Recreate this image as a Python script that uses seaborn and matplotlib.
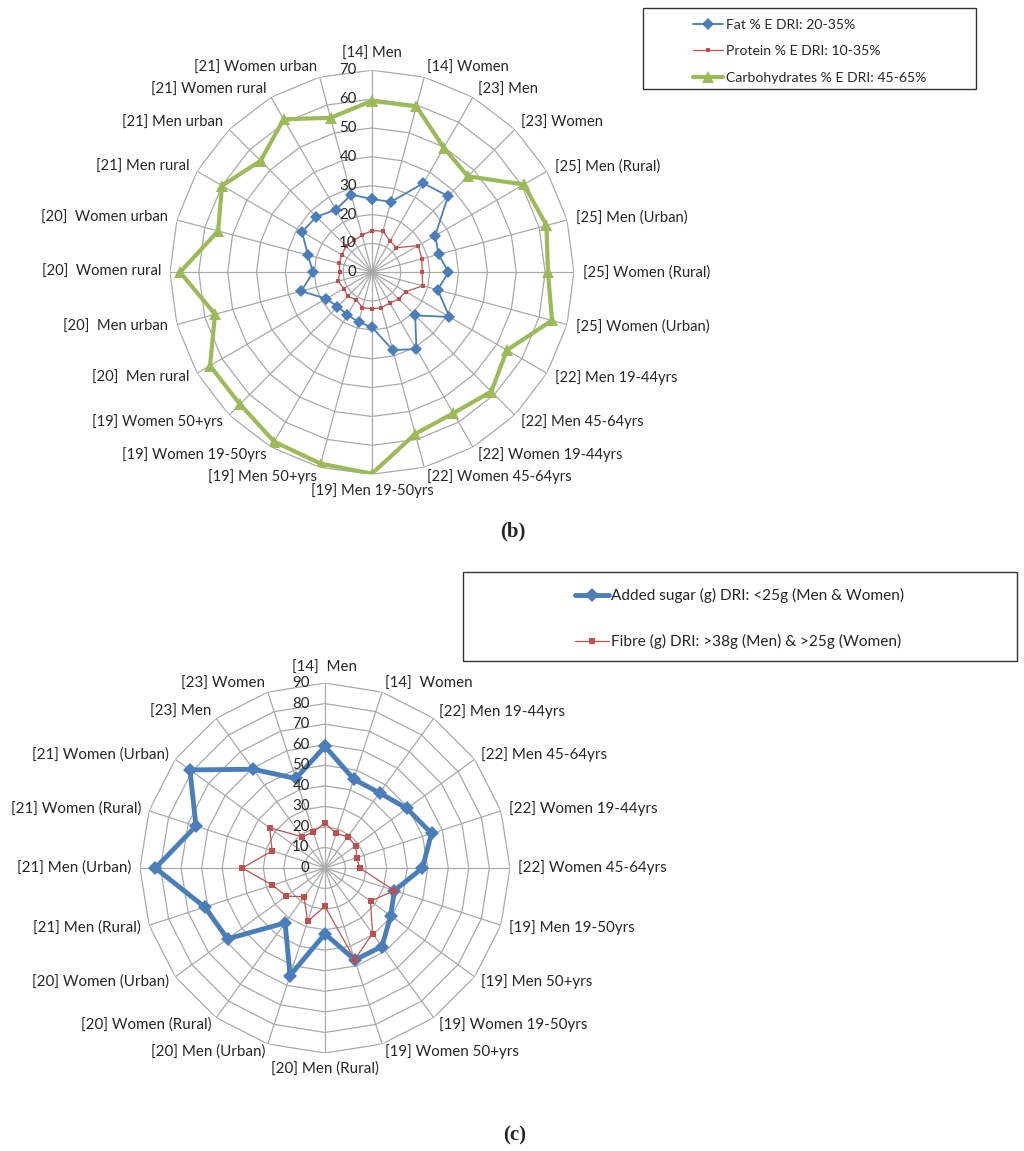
import numpy as np
import pandas as pd
import matplotlib.pyplot as plt
import seaborn as sns
from matplotlib.patches import Rectangle

sns.set_style('white')
plt.rcParams['font.family'] = ['Lato', 'DejaVu Sans']

# chart (b): energy share of macronutrients
cats_b = ['[14] Men', '[14] Women', '[23] Men', '[23] Women', '[25] Men (Rural)',
          '[25] Men (Urban)', '[25] Women (Rural)', '[25] Women (Urban)',
          '[22] Men 19-44yrs', '[22] Men 45-64yrs', '[22] Women 19-44yrs',
          '[22] Women 45-64yrs', '[19] Men 19-50yrs', '[19] Men 50+yrs',
          '[19] Women 19-50yrs', '[19] Women 50+yrs', '[20]  Men rural',
          '[20]  Men urban', '[20]  Women rural', '[20]  Women urban',
          '[21] Men rural', '[21] Men urban', '[21] Women rural', '[21] Women urban']
fat = [25.4, 25.2, 35.6, 37.3, 25.3, 23.9, 26.5, 23.6, 31.0, 21.2, 30.8, 27.9,
       19.1, 17.9, 17.0, 16.9, 18.3, 25.4, 20.4, 23.0, 28.0, 27.2, 25.0, 27.8]
protein = [14.4, 14.7, 12.5, 12.0, 18.5, 17.9, 17.4, 18.2, 13.5, 13.1, 12.4, 12.7,
           12.7, 12.7, 11.0, 11.8, 11.3, 12.1, 11.2, 11.7, 12.1, 12.7, 12.7, 13.3]
carbs = [59.4, 59.5, 49.8, 47.0, 60.8, 62.6, 61.0, 64.6, 54.0, 58.5, 56.4, 58.0,
         69.8, 68.7, 67.8, 64.7, 64.8, 56.3, 66.5, 55.2, 60.0, 54.6, 61.2, 55.4]

# chart (c): added sugar and fibre
cats_c = ['[14]  Men', '[14]  Women', '[22] Men 19-44yrs', '[22] Men 45-64yrs',
          '[22] Women 19-44yrs', '[22] Women 45-64yrs', '[19] Men 19-50yrs',
          '[19] Men 50+yrs', '[19] Women 19-50yrs', '[19] Women 50+yrs',
          '[20] Men (Rural)', '[20] Men (Urban)', '[20] Women (Rural)',
          '[20] Women (Urban)', '[21] Men (Rural)', '[21] Men (Urban)',
          '[21] Women (Rural)', '[21] Women (Urban)', '[23] Men', '[23] Women']
sugar = [59.2, 45.4, 45.2, 49.3, 54.5, 47.4, 35.5, 39.5, 47.2, 47.0,
         32.0, 55.0, 33.0, 58.6, 61.5, 82.5, 66.0, 81.2, 59.4, 45.8]
fibre = [21.9, 17.7, 18.8, 18.5, 16.3, 16.9, 35.5, 27.4, 39.4, 46.8,
         18.6, 27.3, 17.3, 23.2, 26.9, 40.2, 27.0, 33.3, 18.8, 18.4]

BLUE, RED, GREEN = '#4a7ebb', '#c0504d', '#9bbb59'
GRID = '#a9a9a9'


def radar(ax, cats, rmax, series, fs=10.5, tfs=10.5):
    n = len(cats)
    theta = np.arange(n) * 2 * np.pi / n
    ax.set_theta_zero_location('N')
    ax.set_theta_direction(-1)
    ax.grid(False)
    ax.spines['polar'].set_visible(False)
    ax.set_xticks([])
    ax.set_yticks([])
    closed = np.append(theta, 2 * np.pi)
    # polygon grid + spokes
    for v in range(10, rmax + 1, 10):
        ax.plot(closed, [v] * (n + 1), color=GRID, lw=0.9, zorder=1)
    for t in theta:
        ax.plot([t, t], [0, rmax], color=GRID, lw=0.9, zorder=1)
    for v in range(0, rmax + 1, 10):
        ax.annotate(str(v), (0, v), xytext=(-11, 0), textcoords='offset points',
                    ha='right', va='center', fontsize=tfs, zorder=5)
    for label, vals, kw in series:
        df = pd.DataFrame({'theta': closed, 'value': list(vals) + [vals[0]]})
        sns.lineplot(data=df, x='theta', y='value', sort=False, ax=ax,
                     label=label, zorder=3, markeredgewidth=0, **kw)
    h, l = ax.get_legend_handles_labels()
    ax.get_legend().remove()
    ax.set_xlabel('')
    ax.set_ylabel('')
    ax.set_ylim(0, rmax)
    # category labels
    for t, c in zip(theta, cats):
        s, co = np.sin(t), np.cos(t)
        ha = 'left' if s > 0.05 else ('right' if s < -0.05 else 'center')
        va = 'center'
        if co > 0.99:
            va = 'bottom'
        elif co < -0.99:
            va = 'top'
        ax.text(t, rmax * 1.045, c, ha=ha, va=va, fontsize=fs)
    return h, l


fig = plt.figure(figsize=(10.24, 11.51), dpi=100)

ax1 = fig.add_axes([0.166, 0.588, 0.3945, 0.351], projection='polar')
h1, l1 = radar(ax1, cats_b, 70, [
    ('Fat % E DRI: 20-35%', fat, dict(color=BLUE, lw=1.3, marker='D', markersize=6)),
    ('Protein % E DRI: 10-35%', protein, dict(color=RED, lw=0.9, marker='s', markersize=3.5)),
    ('Carbohydrates % E DRI: 45-65%', carbs, dict(color=GREEN, lw=3, marker='^', markersize=8)),
], fs=10.6, tfs=10.8)

ax2 = fig.add_axes([0.1367, 0.0851, 0.3613, 0.3215], projection='polar')
h2, l2 = radar(ax2, cats_c, 90, [
    ('Added sugar (g) DRI: <25g (Men & Women)', sugar,
     dict(color=BLUE, lw=3.5, marker='D', markersize=7.5)),
    ('Fibre (g) DRI: >38g (Men) & >25g (Women)', fibre,
     dict(color=RED, lw=0.9, marker='s', markersize=4)),
], fs=10.9, tfs=10.8)

# legend boxes
W, H = 1024, 1151
fig.patches.append(Rectangle((643 / W, 1 - 89 / H), 333 / W, 81 / H, transform=fig.transFigure,
                             fill=False, edgecolor='#333333', lw=1))
fig.legend(h1, l1, loc='upper left', bbox_to_anchor=(680 / W, 1 - 6 / H), frameon=False,
           fontsize=10.1, handlelength=2.2, handletextpad=0.2, labelspacing=1.03)
fig.patches.append(Rectangle((463 / W, 1 - 661 / H), 554 / W, 89 / H, transform=fig.transFigure,
                             fill=False, edgecolor='#333333', lw=1))
fig.legend(h2, l2, loc='upper left', bbox_to_anchor=(561 / W, 1 - 574 / H), frameon=False,
           fontsize=11.1, handlelength=2.2, handletextpad=0.15, labelspacing=2.03)

fig.text(513 / W, 1 - 531 / H, '(b)', ha='center', va='center', fontsize=15,
         fontweight='bold', family='Liberation Serif')
fig.text(515 / W, 1 - 1135 / H, '(c)', ha='center', va='center', fontsize=15,
         fontweight='bold', family='Liberation Serif')

fig.savefig('out.png', dpi=100, facecolor='white')
